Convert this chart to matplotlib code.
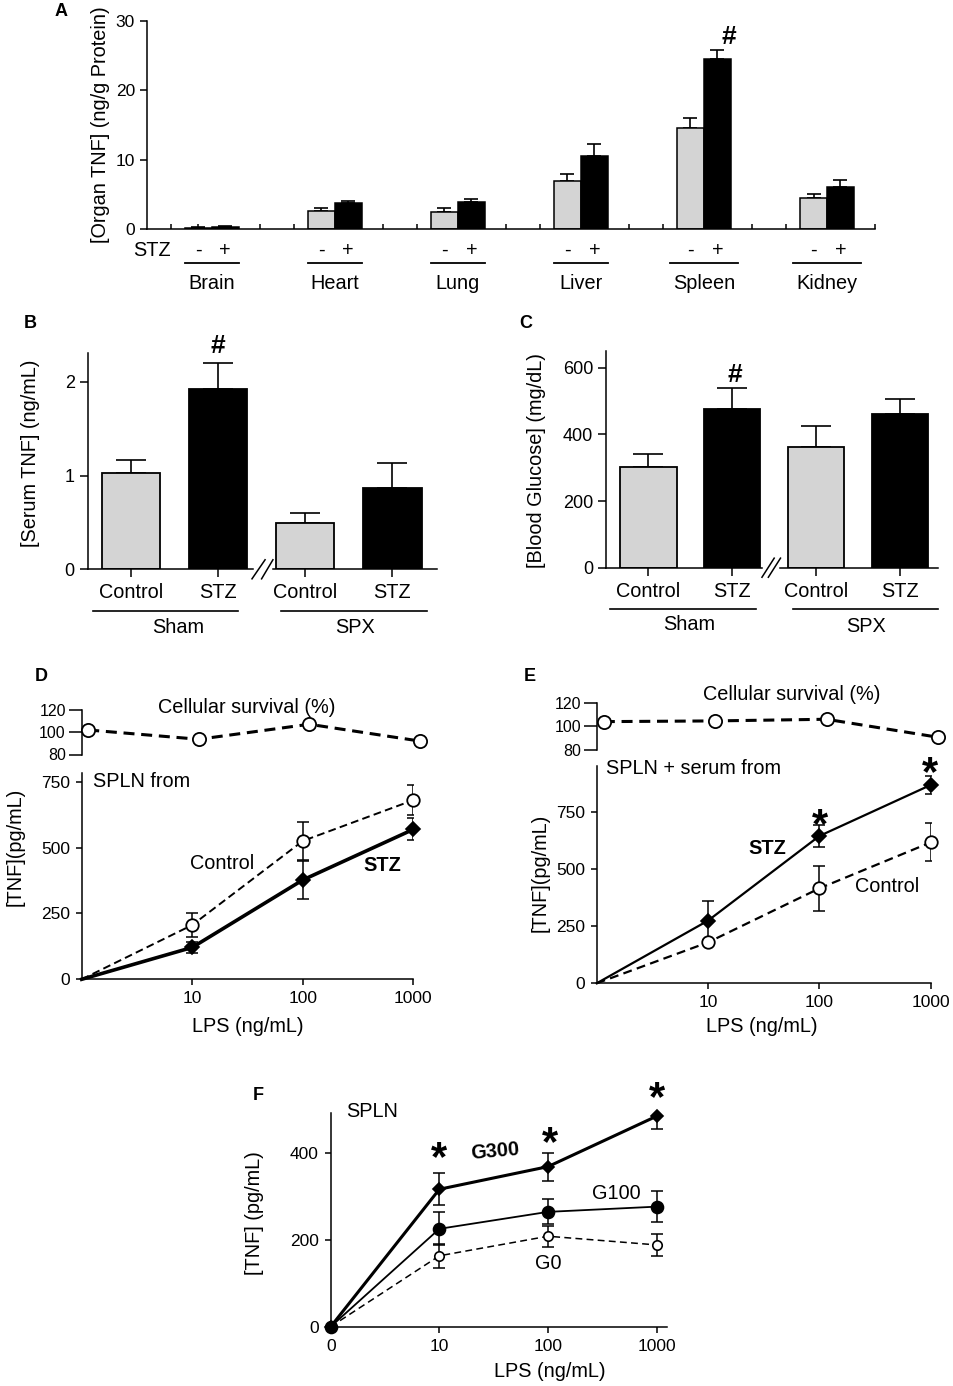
import numpy as np
import matplotlib
matplotlib.use('Agg')
import matplotlib.pyplot as plt
from matplotlib.transforms import blended_transform_factory

plt.rcParams['font.family'] = ['Liberation Sans', 'DejaVu Sans']

# ---------------- data ----------------
organs = ['Brain', 'Heart', 'Lung', 'Liver', 'Spleen', 'Kidney']
organ_ctrl = [0.19, 2.68, 2.5, 7.0, 14.6, 4.46]
organ_ctrl_err = [0.14, 0.43, 0.5, 1.0, 1.36, 0.57]
organ_stz = [0.28, 3.74, 3.95, 10.5, 24.45, 6.04]
organ_stz_err = [0.19, 0.37, 0.35, 1.8, 1.35, 1.05]

bc_groups = ['Control', 'STZ', 'Control', 'STZ']
surgery = ['Sham', 'SPX']
serum_tnf = [1.03, 1.925, 0.497, 0.87]
serum_tnf_err = [0.14, 0.275, 0.10, 0.266]
glucose = [303, 475, 363, 462]
glucose_err = [38, 65, 62, 45]

lps = [0, 10, 100, 1000]
lps_labels = ['0', '10', '100', '1000']

d_ctrl = [0, 206, 525, 680]
d_ctrl_err = [0, 44, 72, 57]
d_stz = [0, 121, 377, 569]
d_stz_err = [0, 22, 71, 42]
d_surv = [101.9, 93.6, 107.0, 92.0]
d_surv_err = [0, 0, 0, 7]

e_ctrl = [0, 179, 415, 616]
e_ctrl_err = [0, 0, 100, 83]
e_stz = [0, 274, 644, 867]
e_stz_err = [0, 84, 49, 40]
e_surv = [104.0, 104.6, 106.0, 90.8]
e_surv_err = [0, 0, 0, 0]

f_g300 = [0, 316, 368, 484]
f_g300_err = [0, 37, 32, 30]
f_g100 = [0, 225, 264, 276]
f_g100_err = [0, 38, 29, 36]
f_g0 = [0, 163, 208, 188]
f_g0_err = [0, 27, 24, 25]

# ---------------- layout helpers ----------------
W, H = 954, 1386
fig = plt.figure(figsize=(W / 100, H / 100), dpi=100)
GRAY = '#d4d4d4'
LAB = 14.3
SPW = 1.1


def add_ax(x0, x1, ytop, ybot):
    return fig.add_axes([x0 / W, 1 - ybot / H, (x1 - x0) / W, (ybot - ytop) / H])


def fx(x):
    return x / W


def fy(y):
    return 1 - y / H


def ftext(x, y, s, **kw):
    kw.setdefault('ha', 'center')
    kw.setdefault('va', 'center')
    kw.setdefault('fontsize', LAB)
    fig.text(fx(x), fy(y), s, **kw)


def fline(x0, x1, y, lw=1.2):
    fig.add_artist(plt.Line2D([fx(x0), fx(x1)], [fy(y), fy(y)], color='k', lw=lw))


def letter(x, y, s):
    ftext(x, y, s, fontsize=13, fontweight='bold')


def star(x, y, s='*', size=30):
    # place glyph visual centre near (x, y) pixels
    px = size * 100 / 72
    off = 0.52 if s == '*' else 0.36
    fig.text(fx(x), fy(y + off * px), s, ha='center', va='baseline',
             fontsize=size, fontweight='bold')


def style_axes(ax, labelsize):
    for sp in ['top', 'right']:
        ax.spines[sp].set_visible(False)
    for sp in ['left', 'bottom']:
        ax.spines[sp].set_linewidth(SPW)
    ax.tick_params(labelsize=labelsize, width=SPW, color='k')


def series(ax, x, y, err, marker, ms, mfc, lw, ls='-', dashes=None,
           mew=1.2, cap=4.5, elw=1.1, z=3, clip=False, skip_first=False):
    x = np.asarray(x, float)
    y = np.asarray(y, float)
    err = np.asarray(err, float)
    m = err > 0
    if m.any():
        ax.errorbar(x[m], y[m], yerr=err[m], fmt='none', ecolor='k',
                    elinewidth=elw, capsize=cap, capthick=elw, zorder=z)
    kw = dict(color='k', lw=lw, marker=marker, ms=ms, mfc=mfc, mec='k',
              mew=mew, zorder=z + 1, clip_on=clip)
    if dashes is not None:
        kw['dashes'] = dashes
    if skip_first:
        kw['markevery'] = list(range(1, len(x)))
    ax.plot(x, y, ls=ls, **kw)


def bar_errors(ax, x, vals, errs, cap):
    vals = np.asarray(vals, float)
    ax.errorbar(x, vals, yerr=[np.zeros_like(vals), errs], fmt='none',
                ecolor='k', elinewidth=1.2, capsize=cap, capthick=1.2, zorder=1)


# ================= Panel A =================
axA = add_ax(146.7, 875, 20.7, 229.3)
xg = np.arange(len(organs))
bw = 0.219
axA.bar(xg - bw / 2, organ_ctrl, bw, color=GRAY, edgecolor='k', lw=1.1, zorder=2)
axA.bar(xg + bw / 2, organ_stz, bw, color='k', edgecolor='k', lw=1.1, zorder=2)
bar_errors(axA, xg - bw / 2, organ_ctrl, organ_ctrl_err, 5)
bar_errors(axA, xg + bw / 2, organ_stz, organ_stz_err, 5)
axA.set_xlim(-0.529, 5.279)
axA.set_ylim(0, 30)
style_axes(axA, 12.5)
axA.set_yticks([0, 10, 20, 30])
axA.tick_params(axis='y', direction='out', length=5)
sep_ticks = np.sort(np.concatenate([xg - 0.335, xg - bw / 2, xg + 0.39]))
axA.set_xticks(sep_ticks)
axA.set_xticklabels([])
axA.tick_params(axis='x', direction='in', length=3.6)

trA = blended_transform_factory(axA.transData, fig.transFigure)
ftext(151.7, 250, 'STZ')
line_pad = [0, 0, 0, 0, 0.06, 0.06]
for i, name in enumerate(organs):
    axA.text(i - bw / 2, fy(250), '-', transform=trA, ha='center', va='center', fontsize=LAB)
    axA.text(i + bw / 2, fy(250), '+', transform=trA, ha='center', va='center', fontsize=LAB)
    axA.plot([i - bw - line_pad[i], i + bw + line_pad[i]], [fy(263.3)] * 2,
             transform=trA, color='k', lw=1.3, clip_on=False)
    axA.text(i, fy(283.3), name, transform=trA, ha='center', va='center', fontsize=LAB)
ftext(101, 125, '[Organ TNF] (ng/g Protein)', rotation=90)
letter(61, 11, 'A')
star(729, 35, '#', 19)


# ================= Panels B and C =================
def bar_panel(ax, vals, errs, xlim, ylim, yticks, brk, slash, labely):
    p = np.arange(len(vals))
    wdt = 0.669
    cols = [GRAY, 'k', GRAY, 'k']
    ax.bar(p, vals, wdt, color=cols, edgecolor='k', lw=1.3, zorder=2)
    bar_errors(ax, p, vals, errs, 10.5)
    ax.set_xlim(*xlim)
    ax.set_ylim(*ylim)
    style_axes(ax, 13)
    ax.spines['bottom'].set_visible(False)
    ax.set_yticks(yticks)
    ax.set_xticks(p)
    ax.set_xticklabels([])
    ax.tick_params(direction='out', length=5.8)
    xt = ax.get_xaxis_transform()
    ax.plot([xlim[0], brk[0]], [0, 0], transform=xt, color='k', lw=SPW, clip_on=False)
    ax.plot([brk[1], xlim[1]], [0, 0], transform=xt, color='k', lw=SPW, clip_on=False)
    for (a, b) in slash:
        ax.plot([a, b], [-0.044, 0.044], transform=xt, color='k', lw=1.1, clip_on=False)
    tr = blended_transform_factory(ax.transData, fig.transFigure)
    for i, g in enumerate(bc_groups):
        ax.text(p[i], fy(labely), g, transform=tr, ha='center', va='center', fontsize=LAB)


axB = add_ax(87.7, 436.7, 352.7, 569.3)
bar_panel(axB, serum_tnf, serum_tnf_err, (-0.494, 3.508), (0, 2.31), [0, 1, 2],
          (1.396, 1.626), [(1.39, 1.54), (1.50, 1.63)], 592.5)
fline(92.7, 238.3, 610.7)
fline(281, 426.7, 610.7)
ftext(178.3, 627.3, surgery[0])
ftext(355, 627.3, surgery[1])
ftext(30.5, 453.5, '[Serum TNF] (ng/mL)', rotation=90)
letter(30.5, 323.3, 'B')
star(217.7, 343.3, '#', 19)

axC = add_ax(606, 937.8, 350.7, 567.7)
bar_panel(axC, glucose, glucose_err, (-0.507, 3.452), (0, 651), [0, 200, 400, 600],
          (1.355, 1.575), [(1.354, 1.50), (1.43, 1.575)], 591.7)
fline(609.8, 756, 609)
fline(792.7, 937.8, 609)
ftext(689, 625, surgery[0])
ftext(866, 626, surgery[1])
ftext(537, 460, '[Blood Glucose] (mg/dL)', rotation=90)
letter(525.6, 323.3, 'C')
star(734.8, 372.7, '#', 19)

# ================= Panels D and E =================
lps_x = np.where(np.asarray(lps) == 0, 1, lps).astype(float)


def line_axes(ax, ytop_val, yticks):
    ax.set_xscale('log')
    ax.set_xlim(1, 1000)
    ax.set_ylim(0, ytop_val)
    style_axes(ax, 12.5)
    ax.set_xticks(lps_x[1:])
    ax.set_xticklabels(lps_labels[1:])
    ax.xaxis.set_minor_locator(matplotlib.ticker.NullLocator())
    ax.set_yticks(yticks)
    ax.tick_params(direction='out', length=4.5, pad=4)


def surv_axes(ax, shift_px, decade_px):
    s = shift_px / decade_px
    ax.set_xscale('log')
    ax.set_xlim(10 ** -s, 10 ** (3 - s))
    ax.set_ylim(80, 120)
    for sp in ['top', 'right', 'bottom']:
        ax.spines[sp].set_visible(False)
    ax.spines['left'].set_linewidth(SPW)
    ax.set_xticks([])
    ax.xaxis.set_minor_locator(matplotlib.ticker.NullLocator())
    ax.set_yticks([80, 100, 120])
    ax.tick_params(axis='y', direction='out', length=9.4, width=SPW, labelsize=11.5, pad=2)
    ax.patch.set_visible(False)


# D
axD = add_ax(81.7, 413.3, 773, 979.3)
line_axes(axD, 783, [0, 250, 500, 750])
series(axD, lps_x, d_ctrl, d_ctrl_err, 'o', 9, 'white', 1.4, '--', dashes=(4, 2.2),
       mew=1.3, skip_first=True)
series(axD, lps_x, d_stz, d_stz_err, 'D', 7.5, 'k', 2.6, '-', skip_first=True)
axDs = add_ax(81.7, 413.3, 709.7, 754.5)
surv_axes(axDs, 6.5, 110.5)
series(axDs, lps_x, d_surv, d_surv_err, 'o', 9.5, 'white', 2.2, '--', dashes=(3.6, 2.2), mew=1.3)
ftext(246.7, 707.7, 'Cellular survival (%)')
ftext(93, 781.7, 'SPLN from', ha='left')
ftext(222.5, 863.3, 'Control')
ftext(382.5, 865, 'STZ', fontweight='bold')
ftext(15, 846.7, '[TNF](pg/mL)', rotation=90)
ftext(248, 1026.7, 'LPS (ng/mL)')
letter(41.7, 676.7, 'D')

# E
axE = add_ax(596.7, 930.7, 766, 983.3)
line_axes(axE, 950, [0, 250, 500, 750])
series(axE, lps_x, e_ctrl, e_ctrl_err, 'o', 9, 'white', 1.6, '--', dashes=(4, 2.4),
       mew=1.3, skip_first=True)
series(axE, lps_x, e_stz, e_stz_err, 'D', 6.8, 'k', 1.6, '-', skip_first=True)
axEs = add_ax(597.3, 931.3, 702.7, 750)
surv_axes(axEs, 6.5, 110.7)
series(axEs, lps_x, e_surv, e_surv_err, 'o', 9.5, 'white', 2.2, '--', dashes=(3.6, 2.2), mew=1.3)
ftext(791.7, 695, 'Cellular survival (%)')
ftext(606, 768.3, 'SPLN + serum from', ha='left')
ftext(767.3, 848.3, 'STZ', fontweight='bold')
ftext(887.3, 886.7, 'Control')
ftext(540, 873, '[TNF](pg/mL)', rotation=90)
ftext(761.7, 1026.7, 'LPS (ng/mL)')
letter(530, 676.7, 'E')
star(820, 815)
star(930, 763.3)

# ================= Panel F =================
axF = add_ax(330.7, 667.3, 1113.3, 1326.7)
xf = np.arange(len(lps))
axF.set_xlim(0, 3.098)
axF.set_ylim(0, 490.6)
style_axes(axF, 12.5)
axF.set_xticks(xf)
axF.set_xticklabels(lps_labels)
axF.set_yticks([0, 200, 400])
axF.tick_params(direction='out', length=4.5, pad=4)
series(axF, xf, f_g0, f_g0_err, 'o', 6.8, 'white', 1.1, '--', dashes=(4.5, 2.8), mew=1.2, cap=4.2)
series(axF, xf, f_g100, f_g100_err, 'o', 8.6, 'k', 1.3, '-', cap=4.2)
series(axF, xf, f_g300, f_g300_err, 'D', 6.2, 'k', 2.2, '-', cap=4.2)
ftext(346, 1111.7, 'SPLN', ha='left')
ftext(495, 1151.7, 'G300', fontweight='bold', rotation=5)
ftext(616.7, 1193.3, 'G100')
ftext(548.3, 1263.3, 'G0')
ftext(255, 1213, '[TNF] (pg/mL)', rotation=90)
ftext(550, 1371.7, 'LPS (ng/mL)')
letter(258.3, 1095, 'F')
star(439, 1148.3)
star(550, 1133.3)
star(656.7, 1088.3)

fig.savefig('out.png', dpi=100)
